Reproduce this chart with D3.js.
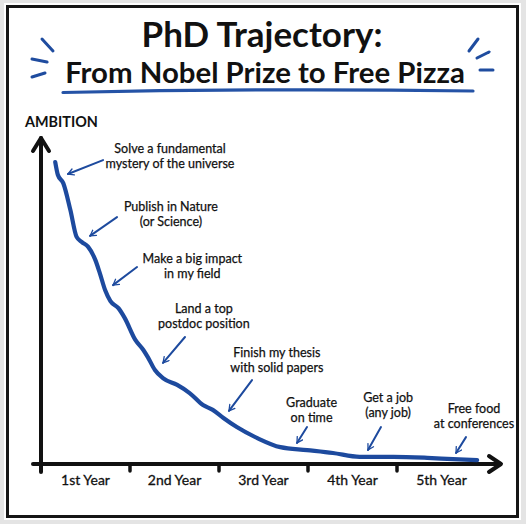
<!DOCTYPE html>
<html>
<head>
<meta charset="utf-8">
<script src="https://cdn.jsdelivr.net/npm/d3@7/dist/d3.min.js"></script>
<style>
  html, body { margin: 0; padding: 0; background: #e4e4e4; }
  svg { display: block; }
</style>
</head>
<body>
<svg id="chart" width="526" height="524"></svg>
<script>
// ---------- data ----------
const titleLines = ["PhD Trajectory:", "From Nobel Prize to Free Pizza"];
const yAxisLabel = "AMBITION";
const yearLabels = ["1st Year", "2nd Year", "3rd Year", "4th Year", "5th Year"];
const yearTicks = [0, 1, 2, 3, 4];

// hand-drawn trajectory (x in years since start, y in ambition 0-100)
const trajYears = [0.16, 0.19, 0.25, 0.33, 0.40, 0.46, 0.53, 0.61, 0.66, 0.72, 0.78, 0.87, 0.94,
  1.06, 1.15, 1.20, 1.28, 1.37, 1.53, 1.67, 1.82, 1.93, 2.05, 2.20, 2.43, 2.69, 2.99,
  3.28, 3.58, 3.96, 4.34, 4.63, 4.90];
const trajAmbition = [93.2, 89.2, 86.7, 78.4, 70.1, 68.5, 67.0, 63.0, 59.0, 53.7, 50.3, 48.1, 45.1,
  38.3, 35.2, 33.0, 29.0, 26.5, 24.4, 21.9, 18.2, 16.7, 14.2, 11.4, 8.0, 5.2, 4.3,
  3.4, 2.2, 2.2, 1.9, 1.5, 1.2];

const annotationText = [
  ["Solve a fundamental", "mystery of the universe"],
  ["Publish in Nature", "(or Science)"],
  ["Make a big impact", "in my field"],
  ["Land a top", "postdoc position"],
  ["Finish my thesis", "with solid papers"],
  ["Graduate", "on time"],
  ["Get a job", "(any job)"],
  ["Free food", "at conferences"]
];
// label anchor (data units) and arrow from -> to (data units)
const annotationAnchor = [[1.45, 96.0], [1.46, 78.1], [1.70, 62.0], [1.83, 46.6],
  [2.65, 33.0], [3.04, 17.6], [3.90, 19.1], [4.865, 15.7]];
const arrowFrom = [[0.697, 93.8], [0.854, 76.2], [1.079, 60.8], [1.618, 39.2],
  [2.371, 25.9], [2.989, 11.4], [3.820, 11.4], [4.775, 8.3]];
const arrowTo = [[0.303, 89.5], [0.551, 70.4], [0.809, 55.2], [1.371, 31.2],
  [2.112, 16.4], [2.876, 6.5], [3.674, 4.3], [4.663, 3.4]];

// ---------- layout ----------
const FONT = "Lato, 'Open Sans', 'DejaVu Sans', sans-serif";
const BLUE = "#1d4a9e";
const INK = "#111";
const svg = d3.select("#chart");

const x = d3.scaleLinear().domain([0, 5]).range([41, 486]);
const y = d3.scaleLinear().domain([0, 100]).range([464, 140]);

// frame
svg.append("rect").attr("x", 4).attr("y", 3).attr("width", 517).attr("height", 517).attr("fill", "#fff");
svg.append("rect").attr("x", 7.5).attr("y", 6.5).attr("width", 510).attr("height", 510)
  .attr("fill", "#fff").attr("stroke", "#151515").attr("stroke-width", 3);

function fit(sel, target) {
  const w = sel.node().getComputedTextLength();
  const fs = parseFloat(sel.attr("font-size"));
  sel.attr("font-size", fs * target / w);
}

// title
const t1 = svg.append("text").attr("x", 262).attr("y", 47).attr("text-anchor", "middle")
  .attr("font-family", FONT).attr("font-weight", 700).attr("font-size", 33).attr("fill", INK)
  .text(titleLines[0]);
fit(t1, 241);
const t2 = svg.append("text").attr("x", 265).attr("y", 83).attr("text-anchor", "middle")
  .attr("font-family", FONT).attr("font-weight", 700).attr("font-size", 28).attr("fill", INK)
  .text(titleLines[1]);
fit(t2, 400);

// underline
svg.append("path").attr("d", "M63,92.5 Q268,88 473,91")
  .attr("fill", "none").attr("stroke", "#2553a6").attr("stroke-width", 3.2).attr("stroke-linecap", "round");

// sparkle dashes
const dashes = [[42,39,53,51],[32,59,47,62],[32,77,45,73],[478,39,469,51],[477,58,489,52],[480,70,493,70]];
svg.append("g").selectAll("line").data(dashes).join("line")
  .attr("x1", d => d[0]).attr("y1", d => d[1]).attr("x2", d => d[2]).attr("y2", d => d[3])
  .attr("stroke", "#1f4c9f").attr("stroke-width", 3).attr("stroke-linecap", "round");

// axes
const axisG = svg.append("g").attr("stroke", INK).attr("stroke-width", 4)
  .attr("stroke-linecap", "round").attr("stroke-linejoin", "round").attr("fill", "none");
axisG.append("line").attr("x1", x(0)).attr("y1", 472).attr("x2", x(0)).attr("y2", 138);
axisG.append("path").attr("d", `M${x(0)-8},151 L${x(0)},138 L${x(0)+8},151`);
axisG.append("line").attr("x1", 33).attr("y1", y(0)).attr("x2", 500).attr("y2", y(0));
axisG.append("path").attr("d", `M489,456 L501,${y(0)} L489,472`);
axisG.selectAll("line.tick").data(yearTicks.slice(1)).join("line").attr("class", "tick")
  .attr("x1", d => x(d)).attr("x2", d => x(d)).attr("y1", y(0)).attr("y2", 471)
  .attr("stroke-width", 3.5);

svg.append("g").selectAll("text").data(yearLabels).join("text")
  .attr("x", (d, i) => x(yearTicks[i] + 0.5)).attr("y", 485)
  .attr("text-anchor", "middle").attr("font-family", FONT).attr("font-size", 14)
  .attr("fill", INK).attr("stroke", INK).attr("stroke-width", 0.3).text(d => d);

const yl = svg.append("text").attr("x", 25).attr("y", 127).attr("font-family", FONT)
  .attr("font-weight", 700).attr("font-size", 15).attr("fill", INK).text(yAxisLabel);
fit(yl, 73);

// trajectory
const line = d3.line().x(d => x(d[0])).y(d => y(d[1])).curve(d3.curveMonotoneX);
svg.append("path").datum(trajYears.map((v, i) => [v, trajAmbition[i]]))
  .attr("d", line).attr("fill", "none").attr("stroke", BLUE).attr("stroke-width", 4.2)
  .attr("stroke-linecap", "round").attr("stroke-linejoin", "round");

// annotations
svg.append("defs").append("marker").attr("id", "ah").attr("viewBox", "0 0 10 10")
  .attr("refX", 8).attr("refY", 5).attr("markerWidth", 4).attr("markerHeight", 4)
  .attr("orient", "auto").attr("markerUnits", "strokeWidth")
  .append("path").attr("d", "M1,1 L8,5 L1,9").attr("fill", "none").attr("stroke", BLUE)
  .attr("stroke-width", 1.6).attr("stroke-linecap", "round").attr("stroke-linejoin", "round");

const probe = svg.append("text").attr("font-family", FONT).attr("font-size", 12).text("mystery of the universe");
const annFS = 12 * 129 / probe.node().getComputedTextLength();
probe.remove();

const annG = svg.append("g");
annotationText.forEach((lines, i) => {
  const [ax, ay] = annotationAnchor[i];
  const t = annG.append("text").attr("text-anchor", "middle").attr("font-family", FONT)
    .attr("font-size", annFS).attr("fill", INK).attr("stroke", INK).attr("stroke-width", 0.25);
  lines.forEach((s, j) => {
    t.append("tspan").attr("x", x(ax)).attr("y", y(ay) + j * 15).text(s);
  });
  annG.append("line")
    .attr("x1", x(arrowFrom[i][0])).attr("y1", y(arrowFrom[i][1]))
    .attr("x2", x(arrowTo[i][0])).attr("y2", y(arrowTo[i][1]))
    .attr("stroke", BLUE).attr("stroke-width", 2).attr("stroke-linecap", "round")
    .attr("marker-end", "url(#ah)");
});
</script>
</body>
</html>
